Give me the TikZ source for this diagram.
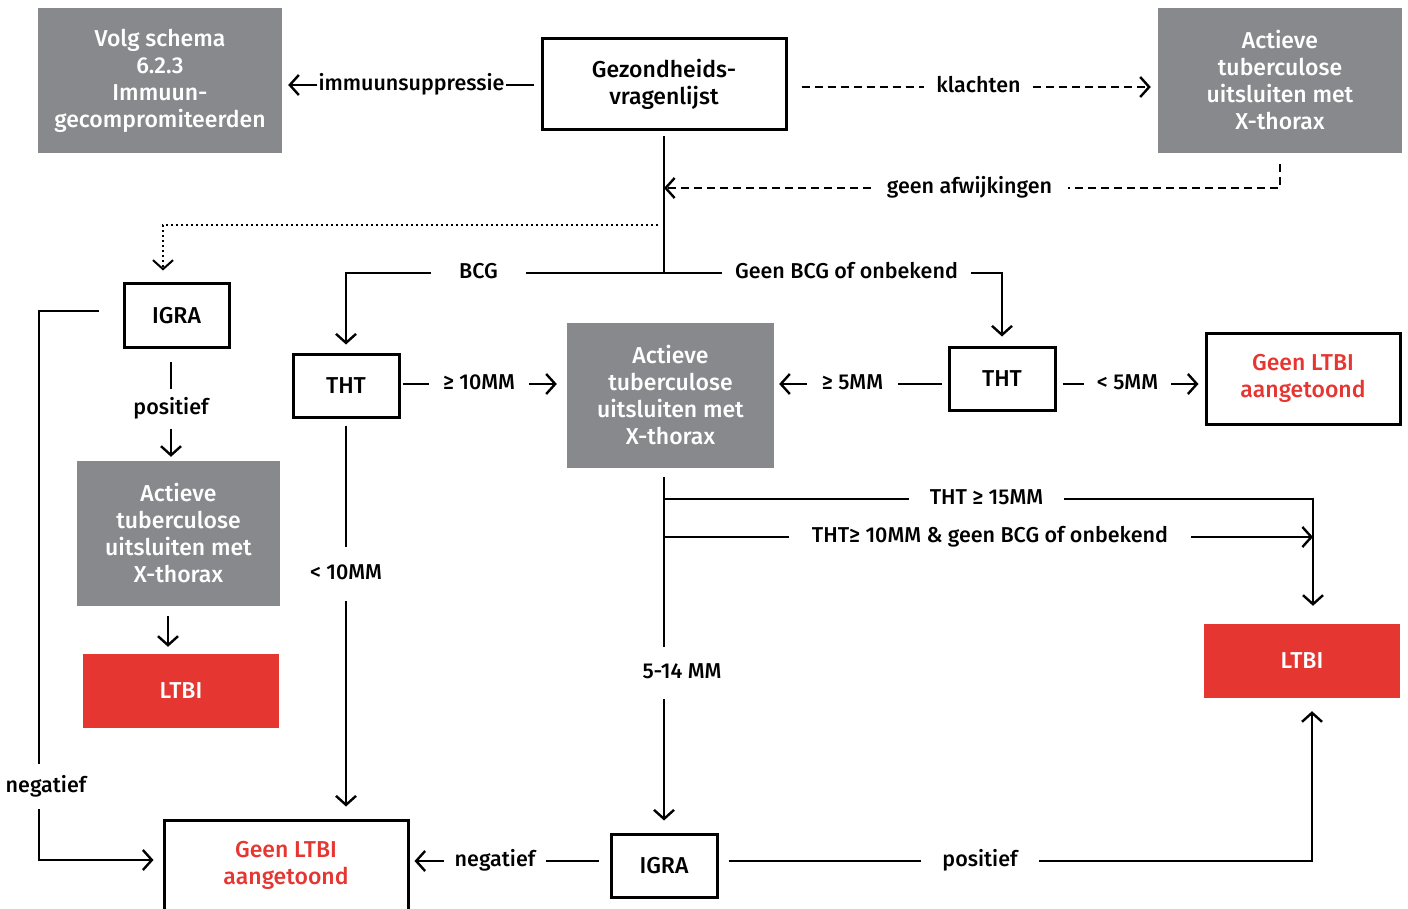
\documentclass[tikz,border=0pt]{standalone}
\usepackage{fontspec}
\setmainfont{Fira Sans}[UprightFont={* Medium}]
\usetikzlibrary{arrows.meta}
\definecolor{boxgray}{HTML}{88898D}
\definecolor{alertred}{HTML}{E53632}
\begin{document}
\begin{tikzpicture}[x=1pt,y=-1pt,line width=2.4pt,
  >={Straight Barb[length=9pt,width=20pt]},
  graybox/.style={fill=boxgray,text=white,align=center,inner sep=0pt,font=\fontsize{23}{27}\selectfont},
  redbox/.style={fill=alertred,text=white,align=center,inner sep=0pt,font=\fontsize{23}{27}\selectfont},
  framebox/.style={draw,line width=3pt,align=center,inner sep=0pt,font=\fontsize{23}{27}\selectfont},
  lbl/.style={inner sep=0pt,text height=15pt,text depth=4pt,font=\fontsize{21.5}{25}\selectfont},
  dashline/.style={dash pattern=on 8pt off 5pt},
  dotline/.style={line width=2pt,dash pattern=on 2pt off 3pt}]
\useasboundingbox (0,0) rectangle (1408,909);

% boxes
\node[graybox,minimum width=244pt,minimum height=145pt] (volg) at (160,80.5) {Volg schema\\6.2.3\\Immuun-\\gecompromiteerden};
\node[framebox,minimum width=244pt,minimum height=91pt] (gez) at (664,84.5) {Gezondheids-\\vragenlijst};
\node[graybox,minimum width=244pt,minimum height=145pt] (xtop) at (1280,80.5) {Actieve\\tuberculose\\uitsluiten met\\X-thorax};
\node[framebox,minimum width=105pt,minimum height=63pt] (igraL) at (176.5,315.5) {IGRA};
\node[graybox,minimum width=203pt,minimum height=145pt] (xleft) at (178.5,533.5) {Actieve\\tuberculose\\uitsluiten met\\X-thorax};
\node[redbox,minimum width=196pt,minimum height=74pt] (ltbiL) at (181,691) {LTBI};
\node[framebox,minimum width=244pt,minimum height=91pt,text=alertred] (geenB) at (286,865.5) {Geen LTBI\\aangetoond};
\node[framebox,minimum width=106pt,minimum height=63pt] (thtL) at (346,385.5) {THT};
\node[graybox,minimum width=207pt,minimum height=145pt] (xmid) at (670.5,395.5) {Actieve\\tuberculose\\uitsluiten met\\X-thorax};
\node[framebox,minimum width=106pt,minimum height=63pt] (thtR) at (1002,378.5) {THT};
\node[framebox,minimum width=194pt,minimum height=91pt,text=alertred] (geenR) at (1303,378.5) {Geen LTBI\\aangetoond};
\node[redbox,minimum width=196pt,minimum height=74pt] (ltbiR) at (1302,661) {LTBI};
\node[framebox,minimum width=106pt,minimum height=63pt] (igraB) at (664,865.5) {IGRA};

% connector labels
\node[lbl,minimum width=177pt] (imm) at (411.5,85) {immuunsuppressie};
\node[lbl,minimum width=107pt] (kl) at (978.5,87) {klachten};
\node[lbl,minimum width=195pt] (ga) at (969.5,188) {geen afwijkingen};
\node[lbl,minimum width=93pt] (bcg) at (478.5,273) {BCG};
\node[lbl,minimum width=247pt] (gbcg) at (846.5,273) {Geen BCG of onbekend};
\node[lbl,minimum height=38pt] (pos1) at (171,409) {positief};
\node[lbl,minimum height=43pt] (neg1) at (46,786.5) {negatief};
\node[lbl,minimum width=98pt] (ge10) at (479,384) {≥ 10MM};
\node[lbl,minimum height=52pt] (lt10) at (346,574) {< 10MM};
\node[lbl,minimum width=89pt] (ge5) at (852.5,384) {≥ 5MM};
\node[lbl,minimum width=85pt] (lt5) at (1127.5,384) {< 5MM};
\node[lbl,minimum height=50pt] (m514) at (682,673) {5-14 MM};
\node[lbl,minimum width=153pt] (t15) at (986.5,499) {THT ≥ 15MM};
\node[lbl,minimum width=400pt] (t10) at (990,537) {THT≥ 10MM \& geen BCG of onbekend};
\node[lbl,minimum width=100pt] (negB) at (495,861) {negatief};
\node[lbl,minimum width=116pt] (posB) at (980,861) {positief};

% questionnaire outcomes
\draw[shorten <=7pt] (gez.west |- imm) -- (imm.east);
\draw[->,shorten >=5pt] (imm.west) -- (volg.east |- imm);
\draw[dashline,shorten <=14pt] (gez.east |- kl) -- (kl.west);
\draw[dashline,->,shorten >=6pt] (kl.east) -- (xtop.west |- kl);
\draw[dashline,shorten <=10pt] (xtop.south) |- (ga.east);
\draw[dashline,->] (ga.west) -- (gez.south |- ga);

% BCG split
\coordinate (j) at (gez.south |- bcg);
\draw[shorten <=5pt] (gez.south) -- (j);
\draw (j) -- (bcg.east);
\draw[->,shorten >=8pt] (bcg.west) -| (thtL.north);
\draw (j) -- (gbcg.west);
\draw[->,shorten >=9pt] (gbcg.east) -| (thtR.north);

% immunocompromised route to IGRA
\coordinate (d0) at ([xshift=-6pt,yshift=-94pt]gez.south);
\coordinate (d1) at ([xshift=-13.5pt]igraL.north);
\draw[dotline,->,shorten >=12pt] (d0) -| (d1);

% left IGRA
\draw[shorten <=13pt] (igraL.south -| pos1.north) -- (pos1.north);
\draw[->,shorten >=3pt] (pos1.south) -- (pos1.south |- xleft.north);
\coordinate (c1) at ([xshift=-13pt]ltbiL.north);
\draw[->,shorten <=9pt,shorten >=6pt] (c1 |- xleft.south) -- (c1);
\coordinate (nA) at ([xshift=-24pt,yshift=4.5pt]igraL.west);
\coordinate (nx) at ([xshift=-7pt]neg1.north);
\coordinate (ny) at ([xshift=-7pt]neg1.south);
\coordinate (nB) at ([xshift=-9pt,yshift=5.5pt]geenB.west);
\draw (nA) -| (nx);
\draw[->] (ny) |- (nB);

% left THT
\draw[shorten <=2pt] (thtL.east |- ge10) -- (ge10.west);
\draw[->,shorten >=9pt] (ge10.east) -- (xmid.west |- ge10);
\draw[shorten <=7pt] (thtL.south -| lt10.north) -- (lt10.north);
\draw[->,shorten >=12pt] (lt10.south) -- (lt10.south |- geenB.north);

% right THT
\draw[shorten <=6pt] (thtR.west |- ge5) -- (ge5.east);
\draw[->,shorten >=4pt] (ge5.west) -- (xmid.east |- ge5);
\draw[shorten <=6pt] (thtR.east |- lt5) -- (lt5.west);
\draw[->,shorten >=6pt] (lt5.east) -- (geenR.west |- lt5);

% after chest X-ray
\coordinate (v0) at ([xshift=-6.5pt]xmid.south);
\coordinate (b1) at (v0 |- t15);
\coordinate (b2) at (v0 |- t10);
\coordinate (v1) at (v0 |- m514.north);
\coordinate (v2) at (v0 |- m514.south);
\coordinate (rx) at ([xshift=11pt]ltbiR.north);
\draw[shorten <=8pt] (v0) -- (v1);
\draw (b1) -- (t15.west);
\draw[->,shorten >=17pt] (t15.east) -| (rx);
\draw (b2) -- (t10.west);
\draw[->] (t10.east) -- (rx |- t10);
\draw[->,shorten >=12pt] (v2) -- (v2 |- igraB.north);

% bottom IGRA
\draw[shorten <=11pt] (igraB.west |- negB) -- (negB.east);
\draw[->,shorten >=5pt] (negB.west) -- (geenB.east |- negB);
\draw[shorten <=10pt] (igraB.east |- posB) -- (posB.west);
\coordinate (ry) at ([xshift=10pt]ltbiR.south);
\draw[->,shorten >=12pt] (posB.east) -| (ry);
\end{tikzpicture}
\end{document}
